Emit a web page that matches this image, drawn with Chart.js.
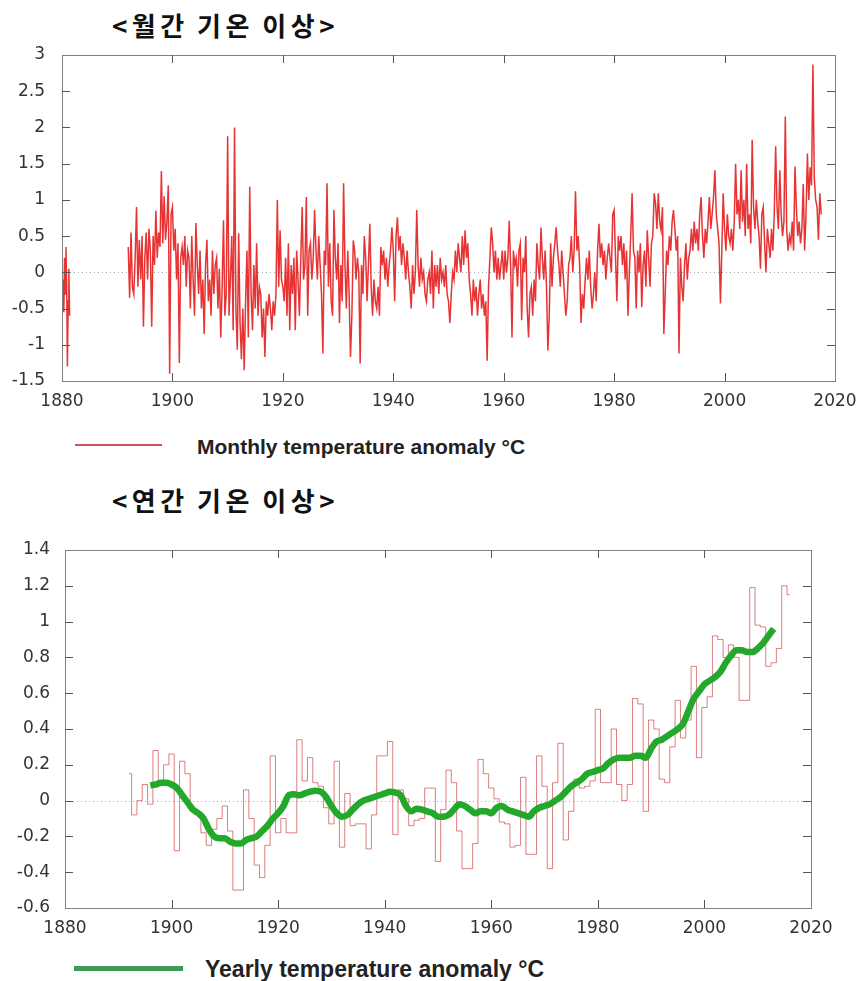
<!DOCTYPE html>
<html>
<head>
<meta charset="utf-8">
<script src="https://cdn.jsdelivr.net/npm/chart.js@4.4.0/dist/chart.umd.min.js"></script>
<style>
  body { margin: 0; background: #fff; width: 859px; height: 981px; position: relative; overflow: hidden; }
  .title { position: absolute; left: 112px; font-family: "Noto Sans CJK KR", sans-serif; font-weight: bold;
           font-size: 26px; line-height: 30px; letter-spacing: 4.5px; word-spacing: -2px; color: #111; white-space: nowrap; }
  canvas { position: absolute; left: 0; }
  .legtext { position: absolute; font-family: "Liberation Sans", Arial, sans-serif; font-weight: bold; color: #222; white-space: nowrap; }
  .legline { position: absolute; }
</style>
</head>
<body>
<div class="title" style="top:10px">&lt;월간 기온 이상&gt;</div>
<canvas id="monthly" width="859" height="380" style="top:40px"></canvas>
<div class="legline" style="left:75px; top:444px; width:87px; height:1.5px; background:#d05060"></div>
<div class="legtext" style="left:197px; top:435px; font-size:21px; line-height:24px">Monthly temperature anomaly °C</div>

<div class="title" style="top:485px">&lt;연간 기온 이상&gt;</div>
<canvas id="yearly" width="859" height="410" style="top:535px"></canvas>
<div class="legline" style="left:74px; top:966px; width:109px; height:5px; background:#3f9a55"></div>
<div class="legtext" style="left:205px; top:955px; font-size:23px; line-height:28px">Yearly temperature anomaly °C</div>

<script>
// monthly anomaly (°C): short early record, then the main record
var monthlyEarlyStart = 1880.2;
var monthlyEarlyStep = 0.13;
var monthlyEarly = [-0.1, -0.55, 0.2, -0.3, 0.35, -0.2, -1.3, -0.4, 0.05, -0.6];

var monthlyStart = 1892;
var monthlyStep = 0.25;
var monthlyValues = [
  // 1892-1899
  0.35, -0.35, 0.55, -0.2,  -0.3, 0.2, 0.9, -0.2,  0.45, -0.1, 0.5, -0.75,  0.2, 0.55, -0.1, 0.6,
  0.3, -0.75, 0.5, 0.1,  0.85, 0.2, 0.55, 0.35,  1.4, 0.4, 1.05, 0.45,  0.7, 1.2, -1.4, 0.8,
  // 1900-1909
  0.9, 0.3, 0.6, -0.1,  0.4, -1.25, 0.2, 0.35,  0.1, 0.5, -0.2, 0.3,  0.2, -0.5, 0.5, -0.1,
  -0.6, 0.68, 0.1, -0.3,  0.3, -0.5, -0.1, -0.85,  0.1, 0.45, -0.4, -0.1,  -0.6, 0.3, -0.3, 0.1,
  0.2, -0.5, 0.05, -0.9,  -0.2, 0.72, -0.6, -0.3,
  // 1910-1919
  1.88, -0.6, -0.1, 0.5,  -0.8, 2.0, -0.5, -1.07,  0.54, -0.7, -1.2, -0.5,  -1.35, -0.4, 0.3, -0.9,
  1.18, -0.3, -0.8, 0.1,  -0.5, 0.4, -0.6, -0.2,  -0.3, -0.9, -0.5, -1.17,  -0.4, -0.6, -0.3, -0.5,
  -0.8, -0.4, -0.6, -0.3,  1.0, -0.2, 0.58, -0.1,
  // 1920-1929
  -0.2, -0.4, 0.2, -0.6,  0.4, -0.8, 0.1, -0.3,  0.2, -0.8, 0.3, -0.1,  -0.6, 0.2, 0.9, -0.1,
  0.1, 1.04, -0.6, 0.3,  0.4, -0.1, 0.2, 0.86,  0.3, -0.1, 0.5, 0.1,  -0.3, -1.12, 0.3, 0.1,
  1.23, -0.2, 0.4, -0.4,  -0.6, 0.86, 0.2, -0.1,
  // 1930-1939
  0.4, -0.7, 0.1, -0.4,  1.23, 0.1, -0.5, 0.3,  -0.3, -1.17, -0.6, 0.44,  0.3, -0.1, 0.2, 0.0,
  -1.26, 0.1, -0.3, 0.5,  0.2, -0.4, 0.1, 0.67,  -0.2, -0.6, -0.1, -0.4,  -0.5, -0.2, -0.6, 0.35,
  0.1, 0.3, -0.1, 0.2,  -0.2, 0.1, 0.3, 0.62,
  // 1940-1949
  0.3, -0.4, 0.5, 0.76,  0.3, 0.5, 0.1, 0.4,  0.2, -0.1, 0.3, 0.0,  -0.2, -0.5, 0.1, -0.3,
  0.0, 0.86, 0.1, -0.2,  0.2, -0.1, 0.0, -0.3,  -0.4, -0.1, 0.0, -0.3,  0.3, -0.5, 0.1, -0.2,
  0.1, -0.3, 0.2, -0.1,  0.0, -0.2, 0.1, -0.3,
  // 1950-1959
  -0.4, -0.7, -0.3, 0.0,  -0.1, 0.3, 0.0, 0.4,  0.2, 0.0, 0.5, 0.1,  0.58, 0.2, 0.4, -0.1,
  -0.3, -0.6, -0.1, -0.4,  -0.2, -0.6, -0.3, -0.1,  -0.5, -0.3, -0.6, -0.4,  -1.22, -0.2, 0.2, 0.62,
  0.4, 0.0, 0.3, -0.1,  0.2, -0.1, 0.1, 0.3,
  // 1960-1969
  -0.1, 0.3, 0.0, 0.2,  0.71, 0.1, -0.9, 0.3,  0.1, 0.2, -0.2, 0.3,  0.4, -0.66, 0.2, 0.0,
  0.5, -0.5, -0.9, -0.3,  -0.2, -0.6, -0.1, -0.4,  0.4, 0.1, -0.1, 0.62,  0.2, -0.1, 0.3, -0.2,
  -1.08, -0.6, 0.4, -0.2,  0.2, 0.4, 0.62, 0.3,
  // 1970-1979
  0.1, -0.2, 0.3, 0.0,  -0.3, -0.6, -0.4, 0.1,  0.2, 0.5, 0.0, 0.3,  1.12, 0.3, 0.5, 0.1,
  -0.7, -0.3, -0.5, -0.1,  0.2, -0.1, 0.3, -0.2,  -0.5, -0.3, 0.0, -0.4,  0.3, 0.67, 0.2, 0.4,
  0.1, 0.3, -0.1, 0.2,  0.4, 0.2, 0.0, 0.8,
  // 1980-1989
  0.86, 0.2, -0.4, 0.5,  0.3, 0.5, 0.1, 0.4,  -0.1, 0.3, -0.6, 0.0,  0.5, 1.09, 0.3, 0.2,
  -0.5, 0.3, 0.0, 0.4,  -0.48, 0.1, 0.3, -0.2,  0.58, 0.2, -0.2, 0.4,  0.5, 1.09, 0.95, 0.6,
  1.09, 0.7, 0.58, 0.9,  -0.85, -0.3, 0.3, 0.1,
  // 1990-1999
  0.5, 0.3, 0.7, 0.86,  0.6, 0.3, 0.5, -1.12,  0.2, -0.2, -0.4, 0.1,  0.4, -0.1, 0.2, 0.3,
  0.6, 0.3, 0.7, 0.4,  0.6, 0.3, 0.8, 1.04,  0.5, 0.2, 0.6, 0.4,  0.7, 1.04, 0.6, 0.8,
  1.04, 1.41, 0.8, 0.6,  0.4, -0.43, 0.3, 1.09,
  // 2000-2009
  0.6, 0.3, 0.8, 0.5,  0.4, 0.6, 0.3, 0.7,  1.5, 0.8, 1.0, 0.6,  1.41, 0.7, 1.0, 0.5,
  1.5, 0.6, 0.8, 0.4,  1.83, 0.9, 0.6, 1.0,  0.7, 0.5, 0.05, 0.8,  0.9, 0.4, 0.0, 0.6,
  0.4, 0.2, 0.6, 0.3,  0.8, 1.74, 0.9, 0.6,
  // 2010-2017
  1.41, 0.8, 0.5, 0.7,  2.15, 0.6, 0.3, 0.5,  0.4, 0.7, 0.3, 1.46,  0.9, 0.5, 0.7, 0.4,
  0.6, 1.22, 0.3, 0.8,  1.64, 1.0, 1.45, 1.2,  2.87, 1.3, 1.0, 0.9,  0.45, 1.09, 0.8
];

// yearly anomaly (°C), one value per year from 1892
var yearlyStart = 1892;
var yearlyValues = [
  0.15, -0.08, 0.0, 0.09, -0.02, 0.28, 0.09, 0.2,                       // 1892-1899
  0.26, -0.28, 0.22, 0.15, -0.06, -0.07, -0.18, -0.25, -0.16, -0.1,     // 1900s
  -0.03, -0.17, -0.5, -0.5, 0.06, -0.1, -0.36, -0.43, -0.25, 0.25,      // 1910s
  -0.18, -0.1, -0.18, -0.18, 0.34, 0.11, 0.24, 0.1, 0.08, -0.04,        // 1920s
  -0.13, 0.22, -0.26, 0.04, -0.14, -0.13, -0.13, -0.27, -0.08, 0.25,    // 1930s
  0.25, 0.33, -0.19, 0.06, 0.01, -0.14, -0.11, -0.1, 0.07, 0.07,        // 1940s
  -0.34, -0.05, 0.17, 0.1, -0.17, -0.38, -0.38, -0.24, 0.23, 0.15,      // 1950s
  0.07, 0.01, -0.12, -0.13, -0.26, -0.25, 0.13, -0.3, -0.3, 0.25,       // 1960s
  0.08, -0.38, 0.1, 0.32, -0.22, -0.06, 0.12, 0.07, 0.08, 0.11,         // 1970s
  0.51, 0.1, 0.1, 0.4, 0.09, 0.0, 0.09, 0.57, 0.54, -0.06,              // 1980s
  0.45, 0.4, 0.12, 0.1, 0.3, 0.56, 0.35, 0.45, 0.75, 0.24,              // 1990s
  0.52, 0.58, 0.92, 0.9, 0.8, 0.87, 0.8, 0.56, 0.56, 1.19,              // 2000s
  0.98, 0.97, 0.75, 0.77, 0.85, 1.2, 1.15                               // 2010-2016
];

// smoothed yearly anomaly (green curve), one value per year from 1896
var smoothStart = 1896;
var smoothValues = [
  0.085, 0.09, 0.1, 0.1,                                                 // 1896-1899
  0.09, 0.07, 0.03, -0.01, -0.05, -0.07, -0.1, -0.16, -0.2, -0.21,       // 1900s
  -0.21, -0.23, -0.24, -0.24, -0.22, -0.21, -0.2, -0.17, -0.14, -0.1,    // 1910s
  -0.07, -0.03, 0.03, 0.035, 0.03, 0.04, 0.05, 0.055, 0.05, 0.02,        // 1920s
  -0.03, -0.07, -0.09, -0.08, -0.05, -0.02, 0.0, 0.01, 0.02, 0.03,       // 1930s
  0.04, 0.05, 0.045, 0.03, -0.03, -0.06, -0.045, -0.05, -0.06, -0.07,    // 1940s
  -0.09, -0.09, -0.08, -0.05, -0.02, -0.03, -0.05, -0.07, -0.06, -0.06,  // 1950s
  -0.07, -0.04, -0.03, -0.05, -0.06, -0.07, -0.08, -0.09, -0.06, -0.04,  // 1960s
  -0.03, -0.02, 0.0, 0.02, 0.05, 0.08, 0.1, 0.12, 0.15, 0.16,            // 1970s
  0.17, 0.18, 0.21, 0.23, 0.24, 0.24, 0.24, 0.25, 0.25, 0.24,            // 1980s
  0.29, 0.33, 0.34, 0.36, 0.38, 0.4, 0.43, 0.5, 0.57, 0.61,              // 1990s
  0.65, 0.67, 0.69, 0.72, 0.77, 0.81, 0.84, 0.84, 0.83, 0.83,            // 2000s
  0.85, 0.88, 0.92, 0.96                                                 // 2010-2013
];

var xTicks = [1880, 1900, 1920, 1940, 1960, 1980, 2000, 2020];

function series(start, step, values) {
  return values.map(function (v, i) { return { x: start + i * step, y: v }; });
}

// gnuplot-like frame: grey box, inward ticks on all four sides, dotted zero line
var framePlugin = {
  id: 'frame',
  beforeDatasetsDraw: function (chart) {
    var ctx = chart.ctx, a = chart.chartArea;
    var y0 = Math.round(chart.scales.y.getPixelForValue(0)) + 0.5;
    ctx.save();
    ctx.strokeStyle = '#a8a8a8';
    ctx.lineWidth = 1;
    ctx.setLineDash([1, 3]);
    ctx.beginPath();
    ctx.moveTo(a.left, y0);
    ctx.lineTo(a.right, y0);
    ctx.stroke();
    ctx.restore();
  },
  afterDatasetsDraw: function (chart) {
    var ctx = chart.ctx, a = chart.chartArea, xs = chart.scales.x, ys = chart.scales.y;
    ctx.save();
    ctx.strokeStyle = '#808080';
    ctx.lineWidth = 1;
    ctx.strokeRect(Math.round(a.left) + 0.5, Math.round(a.top) + 0.5,
                   Math.round(a.right - a.left), Math.round(a.bottom - a.top));
    ctx.strokeStyle = '#555';
    ctx.beginPath();
    xs.ticks.forEach(function (t) {
      var x = Math.round(xs.getPixelForValue(t.value)) + 0.5;
      if (x < a.left + 2 || x > a.right - 2) return;
      ctx.moveTo(x, a.bottom); ctx.lineTo(x, a.bottom - 8);
      ctx.moveTo(x, a.top); ctx.lineTo(x, a.top + 8);
    });
    ys.ticks.forEach(function (t) {
      var y = Math.round(ys.getPixelForValue(t.value)) + 0.5;
      if (y < a.top + 2 || y > a.bottom - 2) return;
      ctx.moveTo(a.left, y); ctx.lineTo(a.left + 8, y);
      ctx.moveTo(a.right, y); ctx.lineTo(a.right - 8, y);
    });
    ctx.stroke();
    ctx.restore();
  }
};

function noPad(scale) {
  scale.paddingTop = 0;
  scale.paddingBottom = 0;
  scale.paddingLeft = 0;
  scale.paddingRight = 0;
}

function makeChart(id, datasets, yMin, yMax, yStep, yWidth, xHeight, rightPad, yPad, xPad) {
  var tickFont = { family: 'DejaVu Sans', size: 17 };
  return new Chart(document.getElementById(id).getContext('2d'), {
    type: 'line',
    data: { datasets: datasets },
    options: {
      responsive: false,
      animation: false,
      parsing: false,
      normalized: true,
      layout: { padding: { left: 0, right: rightPad, top: 15, bottom: 0 } },
      plugins: { legend: { display: false }, tooltip: { enabled: false } },
      elements: { point: { radius: 0 } },
      scales: {
        x: {
          type: 'linear',
          min: 1880,
          max: 2020,
          afterBuildTicks: function (scale) {
            scale.ticks = xTicks.map(function (v) { return { value: v }; });
          },
          afterFit: function (scale) { scale.height = xHeight; noPad(scale); },
          grid: { display: false, drawTicks: false },
          border: { display: false },
          ticks: { color: '#333', font: tickFont, padding: xPad, maxRotation: 0,
                   callback: function (v) { return String(v); } }
        },
        y: {
          type: 'linear',
          min: yMin,
          max: yMax,
          afterFit: function (scale) { scale.width = yWidth; noPad(scale); },
          grid: { display: false, drawTicks: false },
          border: { display: false },
          ticks: { color: '#333', font: tickFont, padding: yPad, stepSize: yStep,
                   callback: function (v) { return String(Math.round(v * 10) / 10); } }
        }
      }
    },
    plugins: [framePlugin]
  });
}

var monthlyPoints = series(monthlyEarlyStart, monthlyEarlyStep, monthlyEarly)
  .concat([{ x: 1886, y: null }])
  .concat(series(monthlyStart, monthlyStep, monthlyValues));

makeChart('monthly', [{
  label: 'Monthly temperature anomaly °C',
  data: monthlyPoints,
  borderColor: 'rgba(225,0,0,0.8)',
  borderWidth: 1.5,
  spanGaps: false,
  tension: 0
}], -1.5, 3, 0.5, 62, 39, 24, 17, 10);

makeChart('yearly', [{
  label: 'Yearly temperature anomaly °C',
  data: series(smoothStart, 1, smoothValues),
  borderColor: '#22a82a',
  borderWidth: 6.5,
  tension: 0.4,
  cubicInterpolationMode: 'monotone'
}, {
  label: 'yearly steps',
  data: series(yearlyStart, 1, yearlyValues),
  borderColor: 'rgba(200,60,60,0.65)',
  borderWidth: 1,
  stepped: 'middle'
}], -0.6, 1.4, 0.2, 65, 37, 48, 15, 10);
</script>
</body>
</html>
